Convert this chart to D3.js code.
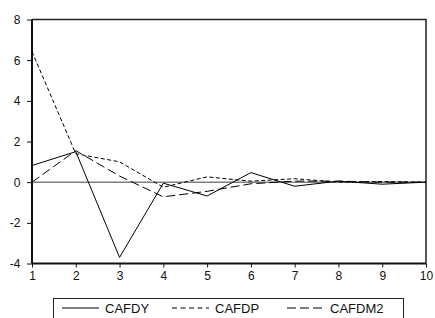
<!DOCTYPE html>
<html>
<head>
<meta charset="utf-8">
<script src="https://cdn.jsdelivr.net/npm/d3@7"></script>
<style>
  body { margin: 0; background: #fff; }
  text { font-family: "Liberation Sans", Arial, sans-serif; }
</style>
</head>
<body>
<div id="chart"></div>
<script>
// data
var periods = [1, 2, 3, 4, 5, 6, 7, 8, 9, 10];
var cafdy  = [0.82, 1.5, -3.7, -0.05, -0.68, 0.47, -0.2, 0.05, -0.1, 0.0];
var cafdp  = [6.42, 1.4, 1.0, -0.25, 0.26, 0.05, 0.17, 0.0, 0.03, 0.0];
var cafdm2 = [0.0, 1.55, 0.3, -0.72, -0.45, -0.08, 0.05, 0.05, 0.0, 0.0];
var yTicks = [-4, -2, 0, 2, 4, 6, 8];
var seriesNames = ["CAFDY", "CAFDP", "CAFDM2"];

var svgWidth = 435;
var svgHeight = 318;

var margin = { top: 19.5, left: 32, right: 9, bottom: 54.5 };
var width = svgWidth - margin.left - margin.right;
var height = svgHeight - margin.top - margin.bottom;

var svg = d3.select("#chart")
    .append("svg")
    .attr("width", svgWidth)
    .attr("height", svgHeight);

var chartGroup = svg.append("g")
    .attr("transform", `translate(${margin.left}, ${margin.top})`);

var x = d3.scaleLinear().domain([1, 10]).range([0, width]);
var y = d3.scaleLinear().domain([-4, 8]).range([height, 0]);

// zero line
chartGroup.append("line")
    .attr("x1", 0).attr("x2", width)
    .attr("y1", y(0)).attr("y2", y(0))
    .attr("stroke", "#7f7f7f")
    .attr("stroke-width", 1.5);

// frame: top and right
chartGroup.append("path")
    .attr("d", `M0,0H${width}V${height}`)
    .attr("fill", "none")
    .attr("stroke", "#222")
    .attr("stroke-width", 1.5);

// axes (plain hyphen for negatives, like the original)
var leftAxis = d3.axisLeft(y).tickValues(yTicks).tickSize(5).tickPadding(6.5)
    .tickFormat(d => String(d));
var bottomAxis = d3.axisBottom(x).tickValues(periods).tickSize(4).tickPadding(4)
    .tickFormat(d => String(d));

var yAxis = chartGroup.append("g").call(leftAxis);
var xAxis = chartGroup.append("g")
    .attr("transform", `translate(0, ${height})`)
    .call(bottomAxis);

[yAxis, xAxis].forEach(function(ax) {
    ax.select(".domain").attr("stroke", "#111").attr("stroke-width", 2);
    ax.selectAll(".tick line").attr("stroke", "#111");
    ax.selectAll(".tick text")
        .attr("fill", "#111")
        .style("font-size", "12px")
        .style("font-family", "'Liberation Sans', Arial, sans-serif");
});
xAxis.select(".domain").attr("d", `M0,0H${width}`);
yAxis.select(".domain").attr("d", `M0,0V${height}`);

// lines
var lineGen = d3.line()
    .x((d, i) => x(periods[i]))
    .y(d => y(d));

var dashes = [null, "4,2.5", "9,4"];
[cafdy, cafdp, cafdm2].forEach(function(vals, i) {
    chartGroup.append("path")
        .datum(vals)
        .attr("d", lineGen)
        .attr("fill", "none")
        .attr("stroke", "#000")
        .attr("stroke-width", 1)
        .attr("stroke-dasharray", dashes[i]);
});

// legend
var legend = svg.append("g");
legend.append("rect")
    .attr("x", 53.5).attr("y", 298.5)
    .attr("width", 350).attr("height", 30)
    .attr("fill", "none")
    .attr("stroke", "#222")
    .attr("stroke-width", 1);

var legendX = [62, 172, 287];
seriesNames.forEach(function(name, i) {
    legend.append("line")
        .attr("x1", legendX[i]).attr("x2", legendX[i] + 37)
        .attr("y1", 308).attr("y2", 308)
        .attr("stroke", "#000")
        .attr("stroke-width", 1)
        .attr("stroke-dasharray", i === 1 ? "5,3.5" : (i === 2 ? "9,4" : null));
    legend.append("text")
        .attr("x", legendX[i] + 43)
        .attr("y", 313)
        .attr("fill", "#111")
        .style("font-size", "13px")
        .text(name);
});
</script>
</body>
</html>
